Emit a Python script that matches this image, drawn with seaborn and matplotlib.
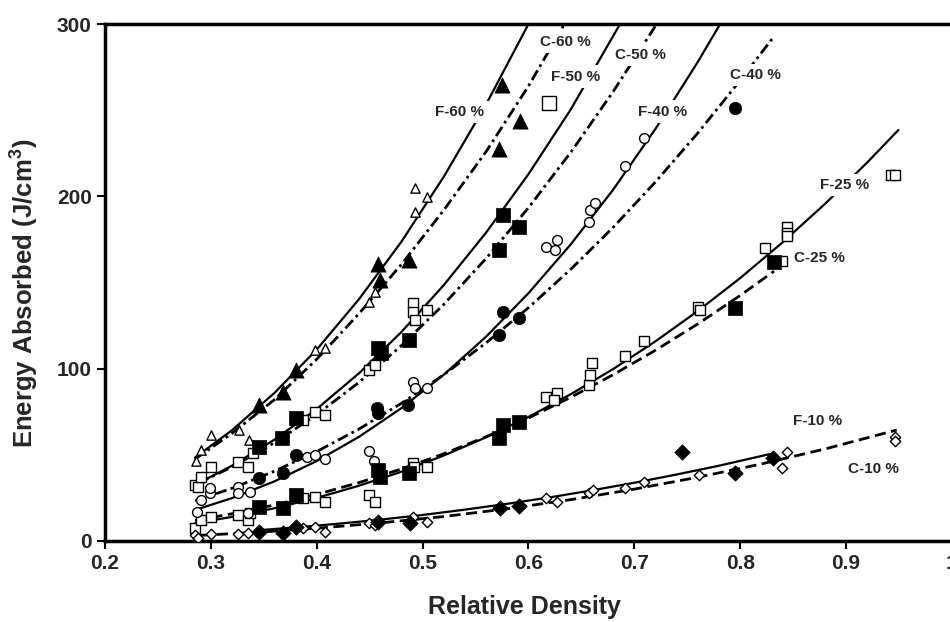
import matplotlib
matplotlib.use("Agg")
import matplotlib.pyplot as plt
from matplotlib import font_manager
import seaborn as sns

# ---------------- fitted curves ----------------
f60_x = [0.285, 0.32, 0.36, 0.40, 0.44, 0.48, 0.52, 0.56, 0.60]
f60_y = [48.4, 64.3, 85.9, 111.1, 140.4, 173.7, 211.4, 253.4, 300]
c60_x = [0.285, 0.32, 0.36, 0.40, 0.44, 0.48, 0.52, 0.56, 0.60, 0.633]
c60_y = [47.5, 62.5, 82.0, 105.5, 132.0, 160.5, 192.0, 226.0, 264.0, 299.0]
f50_x = [0.288, 0.32, 0.36, 0.40, 0.44, 0.48, 0.52, 0.56, 0.60, 0.64, 0.6865]
f50_y = [33.5, 43.7, 58.8, 76.6, 97.4, 121.3, 148.5, 179.0, 212.9, 250.5, 300]
c50_x = [0.288, 0.32, 0.36, 0.40, 0.44, 0.48, 0.52, 0.56, 0.60, 0.64, 0.68, 0.7211]
c50_y = [33.5, 43.0, 57.0, 73.4, 92.1, 113.4, 137.3, 164.0, 193.4, 225.6, 260.8, 300]
f40_x = [0.285, 0.32, 0.36, 0.40, 0.44, 0.48, 0.52, 0.56, 0.60, 0.64, 0.68, 0.72, 0.76, 0.781]
f40_y = [18.0, 24.9, 34.6, 46.4, 60.5, 77.1, 96.5, 118.6, 143.8, 172.2, 203.9, 239.2, 278.1, 300]
c40_x = [0.285, 0.32, 0.36, 0.40, 0.44, 0.48, 0.52, 0.56, 0.60, 0.64, 0.68, 0.72, 0.76, 0.80, 0.832]
c40_y = [23.3, 30.6, 40.5, 51.9, 65.0, 79.9, 96.5, 115.0, 135.4, 157.7, 182.0, 208.4, 236.8, 267.3, 292.9]
f25_x = [0.285, 0.32, 0.36, 0.40, 0.44, 0.48, 0.52, 0.56, 0.60, 0.64, 0.68, 0.72, 0.76, 0.80, 0.84, 0.88, 0.92, 0.9494]
f25_y = [10.3, 14.0, 19.0, 25.0, 32.1, 40.2, 49.6, 60.2, 72.0, 85.2, 99.8, 115.9, 133.5, 152.6, 173.3, 195.6, 219.7, 238.5]
c25_x = [0.285, 0.32, 0.36, 0.40, 0.44, 0.48, 0.52, 0.56, 0.60, 0.64, 0.68, 0.72, 0.76, 0.80, 0.832]
c25_y = [11.9, 15.8, 20.9, 27.0, 33.9, 41.8, 50.6, 60.5, 71.4, 83.4, 96.5, 110.7, 126.0, 142.5, 156.6]
f10_x = [0.342, 0.38, 0.42, 0.46, 0.50, 0.54, 0.58, 0.62, 0.66, 0.70, 0.74, 0.78, 0.8313]
f10_y = [6.1, 7.9, 10.0, 12.4, 15.1, 18.2, 21.6, 25.3, 29.4, 33.8, 38.6, 43.7, 50.9]
c10_x = [0.29, 0.34, 0.40, 0.46, 0.52, 0.58, 0.64, 0.70, 0.76, 0.82, 0.88, 0.9478]
c10_y = [3.3, 4.9, 7.4, 10.5, 14.2, 18.7, 24.0, 30.1, 37.0, 44.7, 53.4, 64.4]

# ---------------- measured points ----------------
open_tri_x = [0.286, 0.291, 0.300, 0.327, 0.336, 0.398, 0.408, 0.449, 0.455, 0.493, 0.493, 0.504]
open_tri_y = [46.4, 52.8, 61.5, 64.4, 58.6, 110.8, 111.8, 138.9, 144.7, 191.0, 204.6, 199.8]
fill_tri_x = [0.345, 0.368, 0.380, 0.458, 0.460, 0.487, 0.572, 0.575, 0.592]
fill_tri_y = [78.9, 86.6, 99.2, 160.5, 151.4, 162.8, 227.5, 264.6, 244.0]
fill_sq_x = [0.345, 0.367, 0.380, 0.458, 0.461, 0.487, 0.572, 0.576, 0.591,
             0.345, 0.368, 0.380, 0.458, 0.460, 0.487, 0.572, 0.576, 0.591, 0.795, 0.832]
fill_sq_y = [54.7, 59.6, 71.2, 111.8, 108.9, 116.6, 168.9, 189.2, 182.4,
             19.9, 19.0, 26.7, 41.2, 37.3, 39.3, 59.6, 67.3, 69.2, 135.4, 161.7]
fill_circ_x = [0.345, 0.368, 0.380, 0.457, 0.458, 0.486, 0.572, 0.576, 0.591, 0.795]
fill_circ_y = [36.4, 39.3, 49.9, 77.0, 74.1, 78.9, 119.5, 133.0, 129.2, 251.3]
fill_dia_x = [0.345, 0.368, 0.380, 0.458, 0.488, 0.573, 0.591, 0.745, 0.795, 0.831]
fill_dia_y = [5.4, 4.5, 8.3, 11.2, 10.3, 19.0, 20.3, 51.8, 39.3, 48.0]
open_sq_x = [0.285, 0.288, 0.291, 0.300, 0.326, 0.335, 0.340, 0.387, 0.398, 0.408, 0.449, 0.455,
             0.491, 0.491, 0.493, 0.504,
             0.285, 0.291, 0.300, 0.326, 0.335, 0.337, 0.387, 0.398, 0.408, 0.449, 0.455, 0.491,
             0.492, 0.504, 0.617, 0.627, 0.624, 0.657, 0.658, 0.660, 0.691, 0.709, 0.760, 0.762,
             0.823, 0.839, 0.844, 0.844, 0.844, 0.942, 0.946]
open_sq_y = [32.5, 31.5, 37.3, 43.1, 46.0, 43.1, 50.9, 70.2, 75.0, 73.1, 99.2, 102.1,
             137.9, 133.0, 128.2, 134.0,
             7.4, 12.2, 14.1, 15.1, 12.2, 16.2, 24.8, 25.7, 22.8, 26.7, 22.8, 45.1,
             43.0, 42.8, 83.7, 85.7, 81.8, 90.5, 96.3, 103.1, 107.4, 116.2, 136.0, 134.0,
             169.8, 162.6, 182.4, 179.0, 177.0, 212.4, 212.4]
big_sq_x = [0.619]
big_sq_y = [254.3]
open_circ_x = [0.287, 0.291, 0.299, 0.299, 0.326, 0.326, 0.337, 0.335, 0.391, 0.398, 0.408, 0.449,
               0.454, 0.491, 0.493, 0.504, 0.617, 0.627, 0.625, 0.657, 0.658, 0.663, 0.691, 0.709]
open_circ_y = [17.0, 23.8, 28.0, 31.0, 31.5, 28.0, 28.6, 16.1, 48.9, 49.9, 47.4, 52.4,
               46.4, 92.4, 88.6, 88.6, 170.8, 174.7, 168.9, 185.3, 192.1, 196.0, 217.8, 233.7]
open_dia_x = [0.285, 0.288, 0.300, 0.326, 0.335, 0.387, 0.398, 0.408, 0.449, 0.455, 0.491, 0.504,
              0.617, 0.627, 0.657, 0.661, 0.691, 0.709, 0.761, 0.839, 0.844, 0.946, 0.946]
open_dia_y = [3.5, 1.6, 4.1, 4.1, 4.5, 7.4, 8.3, 5.4, 10.3, 9.3, 14.1, 11.2,
              24.8, 22.8, 27.7, 29.6, 30.6, 34.4, 38.3, 42.2, 51.8, 60.5, 58.0]

# ---------------- curve labels ----------------
label_text = ["C-60 %", "C-50 %", "F-50 %", "C-40 %", "F-60 %", "F-40 %", "F-25 %", "C-25 %", "F-10 %", "C-10 %"]
label_x = [0.6345, 0.7054, 0.6449, 0.814, 0.5353, 0.7266, 0.8981, 0.8745, 0.8726, 0.9255]
label_y = [289.6, 282.0, 269.5, 270.4, 249.0, 249.2, 206.6, 164.2, 69.6, 41.8]

x_ticks = [0.2, 0.3, 0.4, 0.5, 0.6, 0.7, 0.8, 0.9, 1.0]
x_tick_labels = ["0.2", "0.3", "0.4", "0.5", "0.6", "0.7", "0.8", "0.9", "1"]
y_ticks = [0, 100, 200, 300]

sns.set_style("white")
plt.rcParams["font.family"] = ["Liberation Sans", "DejaVu Sans"]
plt.rcParams["font.weight"] = "bold"
plt.rcParams["mathtext.fontset"] = "custom"
plt.rcParams["mathtext.rm"] = "Liberation Sans:bold"
plt.rcParams["mathtext.bf"] = "Liberation Sans:bold"

available = {f.name for f in font_manager.fontManager.ttflist}
if "Liberation Sans Narrow" in available:
    tick_family, tick_size = "Liberation Sans Narrow", 17.5
else:
    tick_family, tick_size = "Liberation Sans", 15

fig = plt.figure(figsize=(9.5, 6.22), dpi=100)
ax = fig.add_axes([105 / 950, 81 / 622, 847 / 950, 517 / 622])

solid = dict(color="black", linewidth=1.6, linestyle="-")
dash_a = dict(color="black", linewidth=2.0, linestyle=(0, (4, 2)))
dash_b = dict(color="black", linewidth=2.0, linestyle=(0, (4, 1.5, 1, 1.5)))

for xs, ys, st in [(f60_x, f60_y, solid), (c60_x, c60_y, dash_b),
                   (f50_x, f50_y, solid), (c50_x, c50_y, dash_b),
                   (f40_x, f40_y, solid), (c40_x, c40_y, dash_b),
                   (f25_x, f25_y, solid), (c25_x, c25_y, dash_a),
                   (f10_x, f10_y, solid), (c10_x, c10_y, dash_a)]:
    sns.lineplot(x=xs, y=ys, sort=False, estimator=None, ax=ax, zorder=2, **st)

def pts(xs, ys, marker, s, filled):
    if filled:
        sns.scatterplot(x=xs, y=ys, marker=marker, s=s, color="black",
                        edgecolor="black", linewidth=0.5, ax=ax, zorder=3)
    else:
        sns.scatterplot(x=xs, y=ys, marker=marker, s=s, color="white",
                        edgecolor="black", linewidth=1.0, ax=ax, zorder=3)

pts(open_tri_x, open_tri_y, "^", 45, False)
pts(open_sq_x, open_sq_y, "s", 50, False)
pts(big_sq_x, big_sq_y, "s", 95, False)
pts(open_circ_x, open_circ_y, "o", 50, False)
pts(open_dia_x, open_dia_y, "D", 28, False)
pts(fill_tri_x, fill_tri_y, "^", 120, True)
pts(fill_sq_x, fill_sq_y, "s", 90, True)
pts(fill_circ_x, fill_circ_y, "o", 80, True)
pts(fill_dia_x, fill_dia_y, "D", 62, True)

for t, lx, ly in zip(label_text, label_x, label_y):
    ax.text(lx, ly, t, ha="center", va="center", fontsize=11, fontweight="bold",
            zorder=4, bbox=dict(facecolor="white", edgecolor="none", pad=3))

ax.set_xlim(0.2, 1.0)
ax.set_ylim(0, 300)
ax.set_xticks(x_ticks)
ax.set_xticklabels(x_tick_labels)
ax.set_yticks(y_ticks)
ax.tick_params(axis="both", direction="out", length=6, width=1.5, labelsize=tick_size,
               color="black", bottom=True, left=True)
for lab in ax.get_xticklabels() + ax.get_yticklabels():
    lab.set_fontweight("bold")
    lab.set_family([tick_family, "DejaVu Sans"])
for side in ["left", "top", "bottom"]:
    ax.spines[side].set_linewidth(2.5)
    ax.spines[side].set_color("black")
ax.spines["right"].set_visible(False)

ax.set_xlabel("Relative Density", fontsize=18, fontweight="bold")
ax.xaxis.set_label_coords(0.4947, -0.104)
ax.set_ylabel(r"Energy Absorbed (J/cm$^{3}$)", fontsize=18.5, fontweight="bold")
ax.yaxis.set_label_coords(-0.0767, 0.48)

fig.savefig("out.png", dpi=100)
